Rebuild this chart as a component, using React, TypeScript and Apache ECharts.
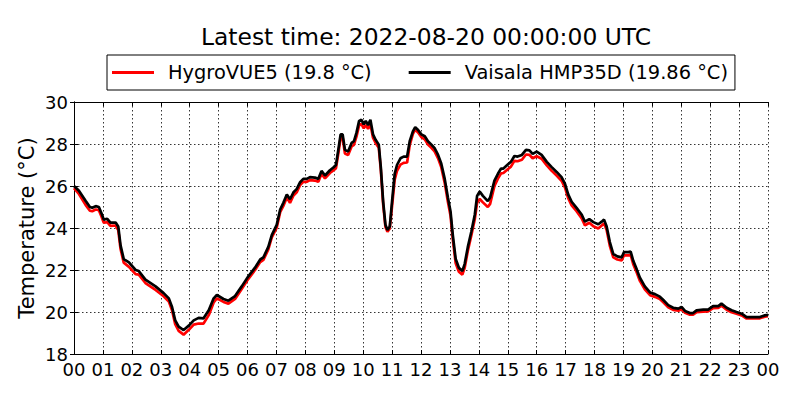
import React, { useEffect, useRef } from "react";
import * as echarts from "echarts";

const TITLE = "Latest time: 2022-08-20 00:00:00 UTC";
const Y_NAME = "Temperature (°C)";
const SERIES_NAMES = ["HygroVUE5 (19.8 °C)", "Vaisala HMP35D (19.86 °C)"];

// time in hours since 2022-08-19 00:00 UTC
const hours = [
  0.0, 0.17, 0.4, 0.55, 0.63, 0.75, 0.86, 0.95, 1.03, 1.15, 1.26, 1.44, 1.53, 1.61, 1.72, 1.9,
  2.13, 2.24, 2.47, 2.82, 3.1, 3.28, 3.39, 3.5, 3.62, 3.79, 3.97, 4.14, 4.31, 4.48, 4.66, 4.83,
  4.94, 5.17, 5.34, 5.57, 5.8, 6.03, 6.26, 6.44, 6.55, 6.72, 6.84, 7.01, 7.13, 7.24, 7.36, 7.47,
  7.59, 7.7, 7.82, 7.93, 8.05, 8.16, 8.33, 8.45, 8.56, 8.68, 8.85, 8.97, 9.06, 9.14, 9.22, 9.29,
  9.37, 9.48, 9.6, 9.68, 9.77, 9.86, 9.94, 10.02, 10.09, 10.17, 10.25, 10.34, 10.43, 10.54, 10.61,
  10.69, 10.77, 10.84, 10.92, 11.0, 11.09, 11.17, 11.29, 11.4, 11.52, 11.61, 11.72, 11.8, 11.9,
  12.01, 12.13, 12.24, 12.36, 12.47, 12.59, 12.7, 12.82, 12.93, 13.02, 13.1, 13.2, 13.31, 13.43,
  13.51, 13.62, 13.74, 13.86, 13.94, 14.03, 14.14, 14.31, 14.39, 14.54, 14.66, 14.77, 14.85, 15.0,
  15.11, 15.23, 15.34, 15.49, 15.63, 15.75, 15.86, 16.0, 16.17, 16.35, 16.52, 16.69, 16.86, 16.98,
  17.09, 17.21, 17.38, 17.56, 17.67, 17.82, 17.96, 18.13, 18.25, 18.33, 18.42, 18.53, 18.65, 18.79,
  18.94, 19.02, 19.17, 19.25, 19.34, 19.46, 19.57, 19.74, 19.92, 20.09, 20.26, 20.38, 20.55, 20.72,
  20.9, 21.01, 21.13, 21.3, 21.41, 21.53, 21.76, 21.93, 22.1, 22.28, 22.39, 22.57, 22.74, 22.91,
  23.09, 23.26, 23.49, 23.72, 23.89, 24.0,
];

const hygroVUE5 = [
  25.9, 25.62, 25.1, 24.82, 24.8, 24.88, 24.85, 24.55, 24.25, 24.28, 24.1, 24.12, 23.9, 23.0, 22.35, 22.15,
  21.8, 21.78, 21.38, 21.05, 20.75, 20.5, 20.08, 19.42, 19.1, 18.92, 19.15, 19.4, 19.45, 19.45, 19.85, 20.45,
  20.65, 20.48, 20.4, 20.62, 21.1, 21.58, 22.0, 22.38, 22.48, 22.98, 23.55, 24.02, 24.75, 25.05, 25.45, 25.2,
  25.55, 25.7, 26.05, 26.2, 26.2, 26.28, 26.26, 26.2, 26.58, 26.36, 26.62, 26.74, 26.85, 27.55, 28.3, 28.3,
  27.55, 27.48, 27.88, 27.96, 28.36, 28.9, 28.95, 28.75, 28.9, 28.72, 28.95, 28.3, 28.05, 27.82, 26.78,
  25.15, 24.05, 23.82, 23.98, 25.05, 26.3, 26.72, 27.02, 27.1, 27.12, 27.95, 28.48, 28.68, 28.55,
  28.33, 28.22, 27.98, 27.82, 27.65, 27.32, 26.9, 26.15, 25.25, 24.6, 23.45, 22.32, 21.92, 21.78,
  22.1, 22.92, 23.65, 24.42, 25.2, 25.38, 25.22, 25.0, 25.15, 26.0, 26.35, 26.6, 26.62, 26.8,
  26.92, 27.2, 27.18, 27.25, 27.5, 27.48, 27.32, 27.42, 27.3, 26.98, 26.72, 26.5, 26.25, 25.92,
  25.42, 25.08, 24.8, 24.45, 24.12, 24.25, 24.08, 23.98, 24.12, 24.22, 23.9, 23.15, 22.6, 22.5,
  22.45, 22.7, 22.7, 22.72, 22.28, 21.88, 21.48, 21.08, 20.8, 20.72, 20.62, 20.46, 20.22, 20.1,
  20.06, 20.14, 19.96, 19.87, 19.87, 19.99, 20.02, 20.03, 20.18, 20.19, 20.3, 20.11, 19.99, 19.92,
  19.84, 19.69, 19.7, 19.7, 19.78, 19.8,
];

const vaisalaHMP35D = [
  26.0, 25.77, 25.3, 25.0, 24.96, 25.04, 25.0, 24.7, 24.4, 24.44, 24.26, 24.26, 24.07, 23.17, 22.52, 22.36,
  22.0, 21.95, 21.54, 21.22, 20.9, 20.65, 20.24, 19.6, 19.3, 19.14, 19.35, 19.6, 19.72, 19.7, 20.08, 20.65,
  20.81, 20.62, 20.54, 20.76, 21.22, 21.7, 22.11, 22.5, 22.6, 23.1, 23.66, 24.15, 24.88, 25.2, 25.6, 25.37,
  25.7, 25.85, 26.18, 26.34, 26.34, 26.42, 26.4, 26.34, 26.72, 26.5, 26.75, 26.88, 27.0, 27.72, 28.46, 28.46,
  27.72, 27.64, 28.05, 28.13, 28.54, 29.1, 29.15, 28.94, 29.1, 28.9, 29.15, 28.46, 28.2, 27.97, 26.9,
  25.28, 24.15, 23.9, 24.07, 25.28, 26.58, 27.0, 27.32, 27.4, 27.4, 28.13, 28.6, 28.8, 28.67,
  28.46, 28.37, 28.13, 27.97, 27.8, 27.48, 27.07, 26.34, 25.45, 24.8, 23.66, 22.52, 22.11, 21.95,
  22.28, 23.1, 23.82, 24.63, 25.53, 25.74, 25.53, 25.28, 25.45, 26.26, 26.58, 26.83, 26.83, 27.02,
  27.15, 27.43, 27.4, 27.48, 27.72, 27.7, 27.53, 27.64, 27.48, 27.15, 26.9, 26.67, 26.42, 26.1,
  25.6, 25.25, 24.96, 24.63, 24.3, 24.42, 24.28, 24.18, 24.3, 24.4, 24.07, 23.33, 22.76, 22.65,
  22.6, 22.85, 22.85, 22.88, 22.44, 22.03, 21.63, 21.22, 20.93, 20.85, 20.73, 20.57, 20.33, 20.2,
  20.16, 20.24, 20.05, 19.95, 19.95, 20.08, 20.11, 20.11, 20.28, 20.28, 20.4, 20.2, 20.08, 20.0,
  19.92, 19.76, 19.76, 19.76, 19.84, 19.86,
];

const Y_MIN = 18;
const Y_MAX = 30;
const Y_STEP = 2;
const X_MIN = 0;
const X_MAX = 24;
const X_STEP = 1;

const FONT = "DejaVu Sans";

export default function App() {
  const ref = useRef<HTMLDivElement>(null);

  useEffect(() => {
    if (!ref.current) return;
    const chart = echarts.init(ref.current, undefined, { renderer: "svg" });

    const hourLabel = (v: number) => String(Math.round(v) % 24).padStart(2, "0");
    const axisLine = { show: true, lineStyle: { color: "#000", width: 1 } };
    const tick = { show: true, inside: true, length: 4, lineStyle: { color: "#000", width: 1 } };
    const grid = { show: true, lineStyle: { color: "#000", width: 0.8, type: [1.5, 2.5] as any } };

    chart.setOption({
      animation: false,
      backgroundColor: "#fff",
      title: {
        text: TITLE,
        left: 421,
        top: 20,
        textAlign: "center",
        textStyle: { fontFamily: FONT, fontSize: 23.4, fontWeight: "normal", color: "#000" },
      },
      legend: {
        left: 107,
        top: 55,
        orient: "horizontal",
        borderColor: "#000",
        borderWidth: 1,
        borderRadius: 0,
        padding: [8, 7, 8, 5],
        itemWidth: 42,
        itemHeight: 3,
        itemGap: 37,
        icon: "rect",
        textStyle: { fontFamily: FONT, fontSize: 19.4, color: "#000", padding: [0, 0, 0, 9] },
        data: SERIES_NAMES,
      },
      grid: { left: 74, right: 32, top: 102, bottom: 46, containLabel: false },
      xAxis: [
        {
          type: "value",
          min: X_MIN,
          max: X_MAX,
          interval: X_STEP,
          position: "bottom",
          axisLine,
          axisTick: tick,
          splitLine: grid,
          axisLabel: {
            formatter: hourLabel,
            fontFamily: FONT,
            fontSize: 18,
            color: "#000",
            margin: 6,
          },
        },
        {
          type: "value",
          min: X_MIN,
          max: X_MAX,
          interval: X_STEP,
          position: "top",
          axisLine,
          axisTick: tick,
          splitLine: { show: false },
          axisLabel: { show: false },
        },
      ],
      yAxis: [
        {
          type: "value",
          min: Y_MIN,
          max: Y_MAX,
          interval: Y_STEP,
          position: "left",
          name: Y_NAME,
          nameLocation: "middle",
          nameGap: 37,
          nameMoveOverlap: false,
          nameTextStyle: { fontFamily: FONT, fontSize: 21, color: "#000" },
          axisLine,
          axisTick: tick,
          splitLine: grid,
          axisLabel: { fontFamily: FONT, fontSize: 18, color: "#000", margin: 6 },
        },
        {
          type: "value",
          min: Y_MIN,
          max: Y_MAX,
          interval: Y_STEP,
          position: "right",
          axisLine,
          axisTick: tick,
          splitLine: { show: false },
          axisLabel: { show: false },
        },
      ],
      series: [
        {
          name: SERIES_NAMES[0],
          type: "line",
          data: hours.map((h, i) => [h, hygroVUE5[i]]),
          showSymbol: false,
          lineStyle: { color: "#ff0000", width: 2.7 },
          itemStyle: { color: "#ff0000" },
          z: 2,
        },
        {
          name: SERIES_NAMES[1],
          type: "line",
          data: hours.map((h, i) => [h, vaisalaHMP35D[i]]),
          showSymbol: false,
          lineStyle: { color: "#000000", width: 2.7 },
          itemStyle: { color: "#000000" },
          z: 3,
        },
      ],
    });

    return () => chart.dispose();
  }, []);

  return (
    <div
      ref={ref}
      style={{ position: "fixed", left: 0, top: 0, width: 800, height: 400, background: "#fff" }}
    />
  );
}
